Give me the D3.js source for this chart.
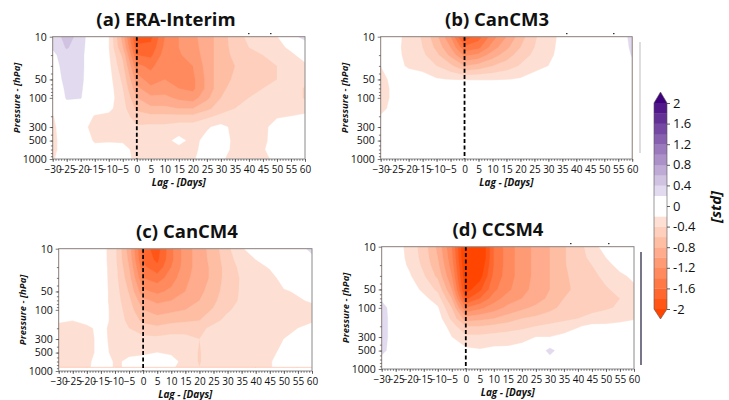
<!DOCTYPE html>
<html><head><meta charset="utf-8">
<script src="https://cdn.jsdelivr.net/npm/d3@7"></script>
<style>body{margin:0;background:#fff}svg{display:block}</style>
</head><body><svg id="c" width="729" height="400"></svg>
<script>
// ---------- data ----------
const lags = [-30,-25,-20,-15,-10,-5,0,5,10,15,20,25,30,35,40,45,50,55,60];
const pressureLevels = [10,15,20,30,50,70,100,150,200,300,500,700,1000];
const pressureLevelsCanCM4 = [10,15,20,30,50,70,100,150,200,300,500,700,850];
const xTickValues = [-30,-25,-20,-15,-10,-5,0,5,10,15,20,25,30,35,40,45,50,55,60];
const yTickValues = [10,50,100,300,500,1000];
const yMinorTicks = [20,30,40,50,60,70,80,90,200,300,400,500,600,700,800,900];
const colorbarTicks = [2,1.6,1.2,0.8,0.4,0,-0.4,-0.8,-1.2,-1.6,-2];
const contourLevels = [-2,-1.8,-1.6,-1.4,-1.2,-1,-0.8,-0.6,-0.4,-0.2,0.2,0.4,0.6,0.8,1,1.2,1.4,1.6,1.8,2];
const titles = ["(a) ERA-Interim","(b) CanCM3","(c) CanCM4","(d) CCSM4"];

// each inner array = one lag column, values from 10 hPa down to the bottom level [std]
const eraInterim = [
 [0.25,0.22,0.15,0.1,0.05,0,0,-0.05,-0.22,-0.25,-0.25,-0.25,-0.22],
 [0.5,0.42,0.32,0.3,0.28,0.25,0.22,0.1,0,-0.05,-0.1,-0.1,-0.1],
 [0.3,0.28,0.26,0.26,0.25,0.23,0.21,0.05,-0.05,-0.12,-0.1,-0.05,-0.05],
 [0,0,0,0,0,0,0,-0.1,-0.22,-0.28,-0.22,-0.15,-0.12],
 [-0.2,-0.2,-0.18,-0.15,-0.12,-0.1,-0.1,-0.15,-0.25,-0.3,-0.22,-0.12,-0.1],
 [-0.9,-0.8,-0.65,-0.55,-0.45,-0.4,-0.35,-0.32,-0.3,-0.3,-0.22,-0.15,-0.12],
 [-1.9,-1.75,-1.6,-1.35,-1.1,-0.95,-0.8,-0.65,-0.5,-0.38,-0.3,-0.25,-0.25],
 [-1.85,-1.75,-1.65,-1.45,-1.3,-1.15,-0.95,-0.75,-0.55,-0.35,-0.28,-0.25,-0.25],
 [-1.4,-1.35,-1.3,-1.25,-1.2,-1.1,-0.95,-0.75,-0.55,-0.35,-0.25,-0.22,-0.22],
 [-1.2,-1.2,-1.22,-1.25,-1.25,-1.2,-1.05,-0.8,-0.55,-0.3,-0.15,-0.25,-0.25],
 [-1.05,-1.08,-1.12,-1.2,-1.25,-1.25,-1.1,-0.8,-0.55,-0.3,-0.25,-0.25,-0.22],
 [-0.9,-0.9,-0.9,-0.92,-0.95,-0.95,-0.85,-0.65,-0.45,-0.22,-0.15,-0.12,-0.12],
 [-0.7,-0.7,-0.7,-0.68,-0.65,-0.65,-0.6,-0.5,-0.35,-0.15,-0.1,-0.12,-0.18],
 [-0.5,-0.52,-0.55,-0.6,-0.58,-0.52,-0.45,-0.4,-0.3,-0.25,-0.25,-0.25,-0.25],
 [-0.35,-0.4,-0.46,-0.52,-0.5,-0.45,-0.4,-0.35,-0.3,-0.25,-0.25,-0.25,-0.25],
 [-0.3,-0.33,-0.4,-0.45,-0.45,-0.4,-0.35,-0.3,-0.28,-0.25,-0.25,-0.22,-0.25],
 [-0.22,-0.28,-0.35,-0.4,-0.4,-0.35,-0.3,-0.25,-0.22,-0.12,-0.1,-0.1,-0.15],
 [0.15,-0.15,-0.25,-0.3,-0.3,-0.3,-0.3,-0.28,-0.2,-0.1,-0.1,-0.05,-0.05],
 [0.25,0.1,-0.1,-0.25,-0.35,-0.42,-0.42,-0.3,-0.15,-0.1,-0.1,-0.05,-0.05]
];
const canCM3 = [
 [-0.05,-0.05,-0.08,-0.2,-0.28,-0.3,-0.3,-0.28,-0.18,-0.05,0,0,0],
 [-0.1,-0.12,-0.12,-0.1,-0.12,-0.14,-0.14,-0.1,-0.05,0,0,0,0],
 [-0.3,-0.3,-0.28,-0.24,-0.05,0,0,0,0,0,0,0,0],
 [-0.42,-0.4,-0.36,-0.28,-0.1,0,0,0,0,0,0,0,0],
 [-0.75,-0.65,-0.55,-0.4,-0.18,0,0,0,0,0,0,0,0],
 [-1.2,-1.0,-0.85,-0.55,-0.21,0,0,0,0,0,0,0,0],
 [-1.95,-1.55,-1.25,-0.8,-0.22,0,0,0,0,0,0,0,0],
 [-1.7,-1.45,-1.15,-0.72,-0.22,0,0,0,0,0,0,0,0],
 [-1.3,-1.1,-0.9,-0.6,-0.22,0,0,0,0,0,0,0,0],
 [-1.0,-0.85,-0.7,-0.5,-0.21,0,0,0,0,0,0,0,0],
 [-0.7,-0.6,-0.5,-0.38,-0.18,0,0,0,0,0,0,0,0],
 [-0.42,-0.4,-0.36,-0.28,-0.1,0,0,0,0,0,0,0,0],
 [-0.32,-0.3,-0.28,-0.2,-0.05,0,0,0,0,0,0,0,0],
 [-0.12,-0.1,-0.08,-0.05,0,0,0,0,0,0,0,0,0],
 [0,0,0,0,0,0,0,0,0,0,0,0,0],
 [0,0,0,0,0,0,0,0,0,0,0,0,0],
 [0,0,0,0,0,0,0,0,0,0,0,0,0],
 [0,0,0,0,0,0,0,0,0,0,0,0,0],
 [0.3,0.26,0.22,0.12,0.05,0,0,0,0,0,0,0,0]
];
const canCM4 = [
 [0,0,0,0,0,0,-0.05,-0.18,-0.25,-0.28,-0.28,-0.28,-0.25],
 [0,0,0,0,0,0,-0.05,-0.2,-0.26,-0.28,-0.28,-0.28,-0.25],
 [0,0,0,0,0,0,-0.05,-0.15,-0.24,-0.26,-0.26,-0.25,-0.24],
 [-0.1,-0.1,-0.1,-0.1,-0.1,-0.1,-0.1,-0.1,-0.15,-0.15,-0.15,-0.1,-0.1],
 [-0.35,-0.35,-0.33,-0.32,-0.3,-0.3,-0.28,-0.28,-0.27,-0.26,-0.24,-0.22,-0.22],
 [-0.9,-0.85,-0.8,-0.72,-0.62,-0.55,-0.5,-0.45,-0.4,-0.32,-0.22,-0.18,-0.18],
 [-1.7,-1.65,-1.55,-1.4,-1.15,-0.95,-0.8,-0.65,-0.5,-0.35,-0.22,-0.15,-0.15],
 [-1.9,-1.85,-1.75,-1.5,-1.25,-1.05,-0.9,-0.7,-0.55,-0.35,-0.2,-0.15,-0.15],
 [-1.45,-1.45,-1.4,-1.3,-1.15,-1.0,-0.85,-0.65,-0.5,-0.32,-0.22,-0.15,-0.18],
 [-1.1,-1.1,-1.1,-1.05,-1.0,-0.92,-0.8,-0.62,-0.5,-0.33,-0.25,-0.25,-0.25],
 [-0.9,-0.9,-0.9,-0.9,-0.85,-0.8,-0.7,-0.6,-0.45,-0.4,-0.42,-0.42,-0.4],
 [-0.7,-0.72,-0.75,-0.75,-0.7,-0.65,-0.58,-0.45,-0.35,-0.3,-0.25,-0.25,-0.25],
 [-0.45,-0.48,-0.5,-0.5,-0.48,-0.45,-0.42,-0.35,-0.3,-0.28,-0.28,-0.25,-0.25],
 [-0.22,-0.3,-0.35,-0.38,-0.38,-0.38,-0.35,-0.3,-0.28,-0.28,-0.26,-0.25,-0.25],
 [-0.1,-0.2,-0.28,-0.32,-0.32,-0.32,-0.32,-0.3,-0.26,-0.26,-0.25,-0.25,-0.25],
 [0,-0.05,-0.18,-0.28,-0.3,-0.3,-0.3,-0.28,-0.24,-0.22,-0.25,-0.22,-0.22],
 [0,0,-0.05,-0.12,-0.22,-0.26,-0.28,-0.26,-0.22,-0.2,-0.15,-0.1,-0.1],
 [0.05,0,0,-0.1,-0.18,-0.22,-0.26,-0.25,-0.2,-0.15,-0.1,-0.05,-0.05],
 [0.3,0.1,0,-0.05,-0.12,-0.18,-0.25,-0.22,-0.15,-0.1,-0.05,0,0]
];
const ccsm4 = [
 [0,0,0,0,0.05,0.15,0.32,0.35,0.35,0.35,0.3,0.1,0],
 [-0.1,-0.1,-0.08,-0.05,-0.03,0,0,0,0,0,0,0,0],
 [-0.28,-0.26,-0.24,-0.18,-0.1,-0.05,0,0,0,0,0,0,0],
 [-0.5,-0.48,-0.45,-0.38,-0.25,-0.15,-0.1,-0.05,0,0,0,0,0],
 [-0.85,-0.8,-0.75,-0.65,-0.45,-0.3,-0.18,-0.1,-0.05,0,0,0,0],
 [-1.4,-1.35,-1.3,-1.2,-1.0,-0.8,-0.6,-0.45,-0.3,-0.2,-0.1,0,0],
 [-2.3,-2.3,-2.25,-2.2,-2.1,-1.85,-1.4,-0.9,-0.6,-0.35,-0.15,0,0],
 [-2.3,-2.3,-2.2,-2.1,-1.85,-1.6,-1.25,-0.85,-0.6,-0.35,-0.18,-0.05,0],
 [-1.6,-1.6,-1.6,-1.55,-1.45,-1.3,-1.1,-0.8,-0.55,-0.32,-0.15,0,0],
 [-1.3,-1.3,-1.3,-1.3,-1.25,-1.1,-0.95,-0.7,-0.5,-0.3,-0.15,0,0],
 [-1.1,-1.1,-1.1,-1.1,-1.05,-1.0,-0.85,-0.6,-0.45,-0.28,-0.1,0,0],
 [-0.95,-0.95,-0.95,-0.95,-0.95,-0.9,-0.75,-0.55,-0.4,-0.2,-0.05,0,0],
 [-0.8,-0.8,-0.8,-0.8,-0.8,-0.75,-0.65,-0.5,-0.35,-0.2,0.3,0.1,0],
 [-0.62,-0.62,-0.62,-0.64,-0.65,-0.6,-0.55,-0.45,-0.3,-0.15,0,0,0],
 [-0.48,-0.48,-0.5,-0.52,-0.55,-0.55,-0.5,-0.4,-0.22,-0.1,0,0,0],
 [-0.3,-0.35,-0.4,-0.45,-0.48,-0.48,-0.45,-0.35,-0.15,0,0,0,0],
 [-0.1,-0.2,-0.28,-0.35,-0.42,-0.42,-0.42,-0.32,-0.15,0,0,0,0],
 [0,-0.05,-0.12,-0.25,-0.35,-0.4,-0.38,-0.28,-0.12,0,0,0,0],
 [0,0,-0.05,-0.15,-0.25,-0.3,-0.3,-0.22,-0.1,0,0,0,0]
];

// ---------- colours ----------
const reds = d3.range(10).map(i => d3.interpolateRgb("#fde0d3", "#ff4500")(i / 9));
const purples = d3.range(10).map(i => d3.interpolateRgb("#e2daee", "#3f007d")(i / 9));
function levelColor(k) { // colour of region >= contourLevels[k]
  if (k <= 8) return reds[8 - k];
  if (k === 9) return "#ffffff";
  if (k <= 18) return purples[k - 10];
  return purples[9];
}

const svg = d3.select("#c");
const FONT = "'Open Sans', 'DejaVu Sans', sans-serif";
const minus = d => d < 0 ? "\u2212" + Math.abs(d) : String(d);

const panels = [
  {data: eraInterim, p: pressureLevels, x0: 52.7, y0: 36.7, w: 252.3, h: 122.3, tx: 166, ty: 26},
  {data: canCM3, p: pressureLevels, x0: 380.7, y0: 36.7, w: 251.5, h: 122.3, tx: 497, ty: 26},
  {data: canCM4, p: pressureLevelsCanCM4, x0: 58.7, y0: 248.7, w: 253.3, h: 122.3, tx: 187, ty: 238},
  {data: ccsm4, p: pressureLevels, x0: 381.7, y0: 246.7, w: 252.3, h: 122.3, tx: 498, ty: 236}
];

panels.forEach((cfg, idx) => {
  const g = svg.append("g");
  const x = d3.scaleLinear().domain([-30, 60]).range([cfg.x0, cfg.x0 + cfg.w]);
  const y = d3.scaleLog().domain([10, 1000]).range([cfg.y0, cfg.y0 + cfg.h]);
  const nx = lags.length, ny = cfg.p.length;
  const values = new Array(nx * ny);
  for (let j = 0; j < ny; j++) for (let i = 0; i < nx; i++) values[j * nx + i] = cfg.data[i][j];
  const lp = cfg.p.map(Math.log10);
  function proj(cx, cy) {
    const gx = Math.max(0, Math.min(nx - 1, cx - 0.5));
    const gy = Math.max(0, Math.min(ny - 1, cy - 0.5));
    const i0 = Math.min(Math.floor(gx), nx - 2), fx = gx - i0;
    const lag = lags[i0] + fx * (lags[i0 + 1] - lags[i0]);
    const j0 = Math.min(Math.floor(gy), ny - 2), fy = gy - j0;
    const pr = Math.pow(10, lp[j0] + fy * (lp[j0 + 1] - lp[j0]));
    return [x(lag), y(pr)];
  }
  const path = d3.geoPath(d3.geoTransform({
    point(px, py) { const q = proj(px, py); this.stream.point(q[0], q[1]); }
  }));
  const clipId = "clip" + idx;
  g.append("clipPath").attr("id", clipId).append("rect")
    .attr("x", cfg.x0).attr("y", cfg.y0).attr("width", cfg.w).attr("height", cfg.h);
  const plot = g.append("g").attr("clip-path", `url(#${clipId})`);
  plot.append("rect").attr("x", cfg.x0).attr("y", cfg.y0).attr("width", cfg.w).attr("height", cfg.h).attr("fill", "#fff");
  plot.append("rect").attr("x", x(lags[0])).attr("y", y(cfg.p[0]))
    .attr("width", x(lags[nx - 1]) - x(lags[0])).attr("height", y(cfg.p[ny - 1]) - y(cfg.p[0]))
    .attr("fill", reds[9]);
  const contours = d3.contours().size([nx, ny]).thresholds(contourLevels)(values);
  plot.selectAll("path.band").data(contours).join("path")
    .attr("class", "band")
    .attr("d", d => path(d))
    .attr("fill", (d, k) => levelColor(k))
    .attr("fill-rule", "evenodd")
    .attr("stroke", (d, k) => levelColor(k))
    .attr("stroke-width", 0.3);
  plot.append("line").attr("x1", x(0)).attr("x2", x(0)).attr("y1", cfg.y0).attr("y2", cfg.y0 + cfg.h)
    .attr("stroke", "#000").attr("stroke-width", 1.8).attr("stroke-dasharray", "4,2.4");
  g.append("rect").attr("x", cfg.x0).attr("y", cfg.y0).attr("width", cfg.w).attr("height", cfg.h)
    .attr("fill", "none").attr("stroke", "#8a8a8a").attr("stroke-width", 1);
  const bottom = cfg.y0 + cfg.h;
  const xMinor = g.append("g").attr("transform", `translate(0,${bottom})`)
    .call(d3.axisBottom(x).tickValues(d3.range(-30, 61)).tickSize(1.8).tickFormat(""));
  const xAx = g.append("g").attr("transform", `translate(0,${bottom})`)
    .call(d3.axisBottom(x).tickValues(xTickValues).tickSize(3).tickPadding(3.5).tickFormat(minus));
  const yMinor = g.append("g").attr("transform", `translate(${cfg.x0},0)`)
    .call(d3.axisLeft(y).tickValues(yMinorTicks).tickSize(1.8).tickFormat(""));
  const yAx = g.append("g").attr("transform", `translate(${cfg.x0},0)`)
    .call(d3.axisLeft(y).tickValues(yTickValues).tickSize(3).tickPadding(3).tickFormat(d => String(d)));
  [xMinor, xAx, yMinor, yAx].forEach(a => {
    a.select(".domain").remove();
    a.selectAll("line").attr("stroke", "#444").attr("stroke-width", 0.7);
    a.selectAll("text").attr("font-family", FONT).attr("font-size", 10.5).attr("fill", "#111");
  });
  xAx.selectAll("text").attr("font-size", 10);
  g.append("text").attr("x", cfg.tx).attr("y", cfg.ty).attr("text-anchor", "middle")
    .attr("font-family", FONT).attr("font-weight", 700).attr("font-size", 18.5).attr("fill", "#111")
    .text(titles[idx]);
  g.append("text").attr("x", cfg.x0 + cfg.w / 2).attr("y", bottom + 27)
    .attr("text-anchor", "middle").attr("font-family", FONT).attr("font-weight", 700)
    .attr("font-style", "italic").attr("font-size", 10).attr("fill", "#111").text("Lag - [Days]");
  g.append("text").attr("transform", `translate(${cfg.x0 - 33},${cfg.y0 + cfg.h / 2}) rotate(-90)`)
    .attr("text-anchor", "middle").attr("font-family", FONT).attr("font-weight", 700)
    .attr("font-style", "italic").attr("font-size", 9.5).attr("fill", "#111").text("Pressure - [hPa]");
});

// ---------- colour bar ----------
const cbX = 654, cbW = 13;
const cb = d3.scaleLinear().domain([-2, 2]).range([309, 103]);
const cbG = svg.append("g");
for (let k = 0; k < contourLevels.length - 1; k++) {
  cbG.append("rect").attr("x", cbX).attr("y", cb(contourLevels[k + 1]))
    .attr("width", cbW).attr("height", cb(contourLevels[k]) - cb(contourLevels[k + 1]) + 0.3)
    .attr("fill", levelColor(k));
}
cbG.append("path").attr("d", `M${cbX},${cb(2)}L${cbX + cbW / 2},92L${cbX + cbW},${cb(2)}Z`).attr("fill", purples[9]);
cbG.append("path").attr("d", `M${cbX},${cb(-2)}L${cbX + cbW / 2},319L${cbX + cbW},${cb(-2)}Z`).attr("fill", reds[9]);
cbG.append("path")
  .attr("d", `M${cbX},${cb(2)}L${cbX + cbW / 2},92L${cbX + cbW},${cb(2)}L${cbX + cbW},${cb(-2)}L${cbX + cbW / 2},319L${cbX},${cb(-2)}Z`)
  .attr("fill", "none").attr("stroke", "#555").attr("stroke-width", 0.6);
const cbAx = cbG.append("g").attr("transform", `translate(${cbX + cbW},0)`)
  .call(d3.axisRight(cb).tickValues(colorbarTicks).tickSize(3).tickPadding(3).tickFormat(d => String(d)));
cbAx.select(".domain").remove();
cbAx.selectAll("line").attr("stroke", "#333").attr("stroke-width", 0.8);
cbAx.selectAll("text").attr("font-family", FONT).attr("font-size", 13).attr("fill", "#111");
svg.append("text").attr("transform", "translate(721,207) rotate(-90)").attr("text-anchor", "middle")
  .attr("font-family", FONT).attr("font-weight", 700).attr("font-style", "italic")
  .attr("font-size", 15).attr("fill", "#111").text("[std]");

// ---------- stray artefacts from the original figure ----------
svg.append("line").attr("x1", 640).attr("x2", 640).attr("y1", 42).attr("y2", 153).attr("stroke", "#bdbdbd").attr("stroke-width", 1);
svg.append("line").attr("x1", 641).attr("x2", 641).attr("y1", 252).attr("y2", 365).attr("stroke", "#1c1c3a").attr("stroke-width", 1.2);
[[248,33],[270,33],[566,33],[613,33],[570,243],[608,243]].forEach(([a, b]) =>
  svg.append("rect").attr("x", a).attr("y", b).attr("width", 1.5).attr("height", 1.2).attr("fill", "#333"));
</script></body></html>
